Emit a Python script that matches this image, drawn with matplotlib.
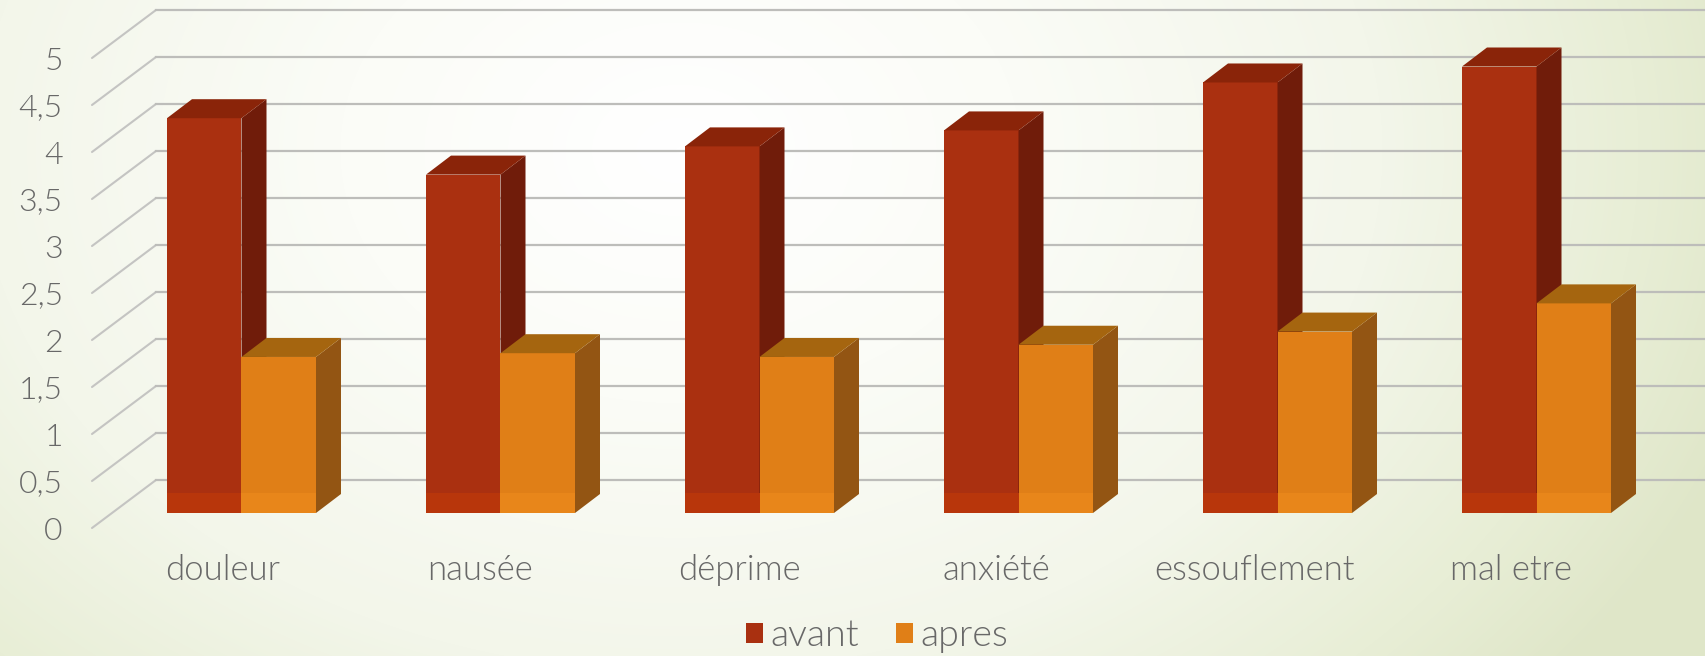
import numpy as np
import matplotlib
matplotlib.use("Agg")
import matplotlib.pyplot as plt
from matplotlib.patches import Polygon, Patch
from matplotlib.colors import LinearSegmentedColormap

categories = ["douleur", "nausée", "déprime", "anxiété", "essouflement", "mal etre"]
avant = [4.2, 3.6, 3.9, 4.07, 4.58, 4.75]
apres = [1.66, 1.7, 1.66, 1.79, 1.93, 2.23]
y_ticks = [0, 0.5, 1, 1.5, 2, 2.5, 3, 3.5, 4, 4.5, 5]
y_labels = ["0", "0,5", "1", "1,5", "2", "2,5", "3", "3,5", "4", "4,5", "5"]
label_shift_px = [-18.5, -20, -20, -22, -22.5, -26]

W, H = 1706, 656
PX_X, PX_Y = 259.0, 94.0
L, B_PX, X0 = 92, 528, 241.5
FONT = "Lato"
TXT = "#686868"

fig = plt.figure(figsize=(W / 100, H / 100), dpi=100)

bg = fig.add_axes([0, 0, 1, 1], zorder=0)
yy, xx = np.mgrid[0:H, 0:W]
r = np.sqrt(((xx - 680) / 1130.0) ** 2 + ((yy - 150) / 840.0) ** 2)
cmap = LinearSegmentedColormap.from_list("b", [(0, "#ffffff"), (0.3, "#fbfcf7"), (0.62, "#f3f6ea"), (0.85, "#e8eed6"), (1, "#dfe6c8")])
bg.imshow(np.clip(r, 0, 1), cmap=cmap, vmin=0, vmax=1, aspect="auto")
bg.axis("off")

ax = fig.add_axes([L / W, (H - B_PX) / H, (W - L) / W, B_PX / H], zorder=1)
ax.patch.set_alpha(0)
ax.set_xlim((L - X0) / PX_X, (W - X0) / PX_X)
ax.set_ylim(0, B_PX / PX_Y)
for s in ax.spines.values():
    s.set_visible(False)

wall_dx, wall_dy = 64 / PX_X, 48 / PX_Y
base = 15 / PX_Y
bw = 74.5 / PX_X
dx, dy = 25 / PX_X, 19 / PX_Y
x_left = (L - X0) / PX_X
x_right = ax.get_xlim()[1]
for v in y_ticks:
    ax.plot([x_left, x_left + wall_dx], [v, v + wall_dy], color="#c4c4c2", lw=1.5, zorder=1, solid_capstyle="round", clip_on=False)
    ax.plot([x_left + wall_dx, x_right], [v + wall_dy] * 2, color="#bdbdba", lw=1.6, zorder=1)

def bar3d(x0, val, front, band, side, top, z):
    ax.bar(x0, val, bw, bottom=base, align="edge", color=front, edgecolor="none", zorder=z)
    ax.bar(x0, 20 / PX_Y, bw, bottom=base, align="edge", color=band, edgecolor="none", zorder=z + 0.05)
    x1 = x0 + bw
    t = base + val
    ax.add_patch(Polygon([(x1, base), (x1 + dx, base + dy), (x1 + dx, t + dy), (x1, t)], fc=side, ec="none", zorder=z))
    ax.add_patch(Polygon([(x0, t), (x0 + dx, t + dy), (x1 + dx, t + dy), (x1, t)], fc=top, ec="none", zorder=z))

for i in range(len(categories)):
    bar3d(i - bw, avant[i], "#aa3010", "#b8360b", "#701c0a", "#8a2409", 3 + i * 0.01)
    bar3d(i, apres[i], "#e07f17", "#e8861a", "#935513", "#a5650f", 4 + i * 0.01)

ax.set_yticks(y_ticks, y_labels)
ax.set_xticks([i + s / PX_X for i, s in enumerate(label_shift_px)], categories)
ax.tick_params(axis="y", length=0, pad=21, labelsize=23, labelcolor=TXT)
ax.tick_params(axis="x", length=0, pad=19, labelsize=25, labelcolor=TXT)
for t in ax.get_xticklabels() + ax.get_yticklabels():
    t.set_family(FONT)
    t.set_weight(300)

handles = [Patch(fc="#a93010", label="avant"), Patch(fc="#e07f17", label="apres")]
fig.legend(handles=handles, loc="center", bbox_to_anchor=(877 / W, 1 - 636 / H), ncol=2, frameon=False,
           prop={"family": FONT, "weight": 300, "size": 27}, labelcolor=TXT,
           handlelength=0.45, handleheight=0.45, handletextpad=0.2, columnspacing=1.0, borderpad=0)

fig.savefig("out.png", dpi=100)
